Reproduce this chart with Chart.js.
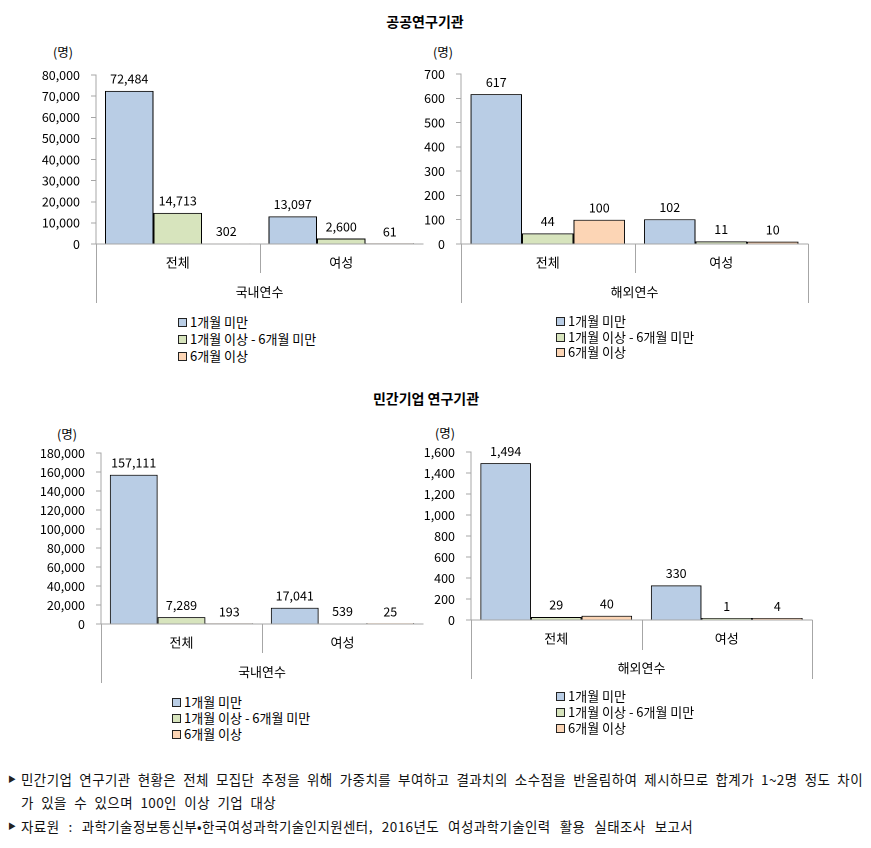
<!DOCTYPE html>
<html>
<head>
<meta charset="utf-8">
<script src="https://cdn.jsdelivr.net/npm/chart.js@4.4.1/dist/chart.umd.min.js"></script>
<style>
  html,body{margin:0;padding:0;background:#fff;}
  body{width:871px;height:848px;position:relative;overflow:hidden;font-family:"Noto Sans CJK KR","Noto Sans",sans-serif;color:#000;}
  canvas{position:absolute;}
  .title{position:absolute;font-weight:bold;font-size:14px;transform:translate(-50%,-50%);white-space:nowrap;}
  .unit{position:absolute;font-size:12.5px;transform:translate(-50%,-50%);white-space:nowrap;}
  .legend{position:absolute;font-size:13px;}
  .legend .row{position:absolute;left:0;white-space:nowrap;height:16px;line-height:16px;}
  .legend .sw{position:absolute;left:0;top:4px;width:7px;height:7px;border:1px solid #222;}
  .legend .tx{position:absolute;left:12px;top:0;}
  .note{position:absolute;font-size:13.5px;white-space:nowrap;color:#111;letter-spacing:0.4px;word-spacing:4px;}
  .tri{position:absolute;font-size:8px;color:#222;}
</style>
</head>
<body>
<div class="title" style="left:425px;top:21px;">공공연구기관</div>
<div class="title" style="left:426px;top:398px;">민간기업 연구기관</div>
<div class="unit" style="left:63px;top:51px;">(명)</div>
<div class="unit" style="left:443px;top:51px;">(명)</div>
<div class="unit" style="left:67px;top:433px;">(명)</div>
<div class="unit" style="left:445px;top:432px;">(명)</div>

<canvas id="c1"></canvas>
<canvas id="c2"></canvas>
<canvas id="c3"></canvas>
<canvas id="c4"></canvas>

<div class="legend" id="lg1" style="left:178px;top:314px;"></div>
<div class="legend" id="lg2" style="left:556px;top:313px;"></div>
<div class="legend" id="lg3" style="left:172px;top:694px;"></div>
<div class="legend" id="lg4" style="left:556px;top:688px;"></div>

<span class="tri" style="left:8px;top:773px;">▶</span>
<div class="note" style="left:21px;top:769px;width:842px;text-align:justify;text-align-last:justify;word-spacing:0;">민간기업 연구기관 현황은 전체 모집단 추정을 위해 가중치를 부여하고 결과치의 소수점을 반올림하여 제시하므로 합계가 1~2명 정도 차이</div>
<div class="note" style="left:21px;top:792px;">가 있을 수 있으며 100인 이상 기업 대상</div>
<span class="tri" style="left:8px;top:820px;">▶</span>
<div class="note" style="left:21px;top:816px;word-spacing:5.6px;">자료원 : 과학기술정보통신부•한국여성과학기술인지원센터, 2016년도 여성과학기술인력 활용 실태조사 보고서</div>

<script>
// ---- data ----
const categories = ['전체', '여성'];
const seriesNames = ['1개월 미만', '1개월 이상 - 6개월 미만', '6개월 이상'];
const seriesColors = ['#B9CDE5', '#D7E4BD', '#FCD5B5'];

// 공공연구기관 - 국내연수
const pubDomLt1 = [72484, 13097];
const pubDom1to6 = [14713, 2600];
const pubDomGe6 = [302, 61];
// 공공연구기관 - 해외연수
const pubAbrLt1 = [617, 102];
const pubAbr1to6 = [44, 11];
const pubAbrGe6 = [100, 10];
// 민간기업 연구기관 - 국내연수
const priDomLt1 = [157111, 17041];
const priDom1to6 = [7289, 539];
const priDomGe6 = [193, 25];
// 민간기업 연구기관 - 해외연수
const priAbrLt1 = [1494, 330];
const priAbr1to6 = [29, 1];
const priAbrGe6 = [40, 4];

// y-axis tick settings [max, step]
const pubDomTicks = [80000, 10000];
const pubAbrTicks = [700, 100];
const priDomTicks = [180000, 20000];
const priAbrTicks = [1600, 200];

const groupDom = '국내연수';
const groupAbr = '해외연수';

// ---- rendering ----
const FONT = '"Noto Sans CJK KR","Noto Sans",sans-serif';
const GRAY = '#A6A6A6';

const valueLabels = {
  id: 'valueLabels',
  afterDatasetsDraw(chart) {
    const ctx = chart.ctx;
    ctx.save();
    ctx.font = '12.5px ' + FONT;
    ctx.fillStyle = '#000';
    ctx.textAlign = 'center';
    ctx.textBaseline = 'middle';
    chart.data.datasets.forEach((ds, i) => {
      chart.getDatasetMeta(i).data.forEach((el, j) => {
        const v = ds.data[j];
        ctx.fillText(v.toLocaleString('en-US'), el.x, Math.min(el.y, chart.chartArea.bottom) - 12);
      });
    });
    ctx.restore();
  }
};

const axisDecor = {
  id: 'axisDecor',
  afterDraw(chart, args, o) {
    const ctx = chart.ctx, a = chart.chartArea, x = chart.scales.x;
    const p = v => Math.round(v) + 0.5;
    ctx.save();
    ctx.strokeStyle = GRAY;
    ctx.lineWidth = 1;
    const ln = (x1, y1, x2, y2) => { ctx.beginPath(); ctx.moveTo(x1, y1); ctx.lineTo(x2, y2); ctx.stroke(); };
    ln(p(a.left), a.bottom, p(a.left), o.outerBottom);
    if (o.rightLine) ln(p(a.right), a.bottom, p(a.right), o.outerBottom);
    const mid = (x.getPixelForValue(0) + x.getPixelForValue(1)) / 2;
    ln(p(mid), a.bottom, p(mid), o.sepBottom);
    ctx.fillStyle = '#000';
    ctx.font = '13px ' + FONT;
    ctx.textAlign = 'center';
    ctx.textBaseline = 'middle';
    ctx.fillText(o.group, (a.left + a.right) / 2, o.groupY);
    ctx.restore();
  }
};

const PADTOP = 30;

function makeChart(id, g) {
  const cv = document.getElementById(id);
  const T = g.top - PADTOP;
  const H = g.outerBottom + 3 - T;
  cv.style.left = g.L + 'px';
  cv.style.top = T + 'px';
  cv.width = g.W; cv.height = H;
  return new Chart(cv, {
    type: 'bar',
    data: {
      labels: categories,
      datasets: g.series.map((d, i) => ({
        label: seriesNames[i],
        data: d,
        backgroundColor: seriesColors[i],
        borderColor: '#000',
        borderWidth: 1,
        borderSkipped: 'start',
        barPercentage: 1,
        categoryPercentage: 0.89,
        minBarLength: g.minBar || 0
      }))
    },
    options: {
      responsive: false,
      devicePixelRatio: 2,
      animation: false,
      layout: { padding: { top: PADTOP, right: g.L + g.W - g.right, left: 0, bottom: 0 } },
      plugins: {
        legend: { display: false },
        tooltip: { enabled: false },
        axisDecor: {
          outerBottom: g.outerBottom - T,
          sepBottom: g.sepBottom - T,
          groupY: g.groupY - T,
          group: g.group,
          rightLine: g.rightLine
        }
      },
      scales: {
        x: {
          grid: { display: false, drawTicks: false },
          border: { display: true, color: GRAY, width: 1 },
          ticks: { font: { size: 13, family: FONT }, color: '#000', padding: g.catPad },
          afterFit: s => { s.height = T + H - g.bottom; }
        },
        y: {
          min: 0, max: g.ticks[0],
          grid: { drawOnChartArea: false, drawTicks: true, tickLength: 5, color: GRAY },
          border: { display: true, color: GRAY, width: 1 },
          ticks: { stepSize: g.ticks[1], font: { size: 12.5, family: FONT }, color: '#000', padding: 11 },
          afterFit: s => { s.width = g.axisX - g.L; }
        }
      }
    },
    plugins: [valueLabels, axisDecor]
  });
}

makeChart('c1', { L: 0, W: 440, axisX: 96, top: 75, bottom: 244, right: 423,
  sepBottom: 273, outerBottom: 303, groupY: 292, catPad: 11, group: groupDom, rightLine: false,
  ticks: pubDomTicks, series: [pubDomLt1, pubDom1to6, pubDomGe6] });
makeChart('c2', { L: 415, W: 410, axisX: 461, top: 74, bottom: 244, right: 808,
  sepBottom: 273, outerBottom: 303, groupY: 292, catPad: 11, group: groupAbr, rightLine: true,
  ticks: pubAbrTicks, series: [pubAbrLt1, pubAbr1to6, pubAbrGe6] });
makeChart('c3', { L: 0, W: 440, axisX: 101, top: 453, bottom: 624, right: 423,
  sepBottom: 653, outerBottom: 683, groupY: 672, catPad: 11, group: groupDom, rightLine: false,
  ticks: priDomTicks, series: [priDomLt1, priDom1to6, priDomGe6] });
makeChart('c4', { L: 415, W: 410, axisX: 471, top: 452, bottom: 620, right: 812,
  sepBottom: 650, outerBottom: 679, groupY: 668, catPad: 11, group: groupAbr, rightLine: true, minBar: 2,
  ticks: priAbrTicks, series: [priAbrLt1, priAbr1to6, priAbrGe6] });

// legends
[
  ['lg1', 17], ['lg2', 15.5], ['lg3', 16], ['lg4', 16]
].forEach(([id, gap]) => {
  const el = document.getElementById(id);
  seriesNames.forEach((n, i) => {
    const r = document.createElement('div');
    r.className = 'row';
    r.style.top = (i * gap) + 'px';
    r.innerHTML = '<span class="sw" style="background:' + seriesColors[i] + '"></span><span class="tx">' + n + '</span>';
    el.appendChild(r);
  });
});
</script>
</body>
</html>
